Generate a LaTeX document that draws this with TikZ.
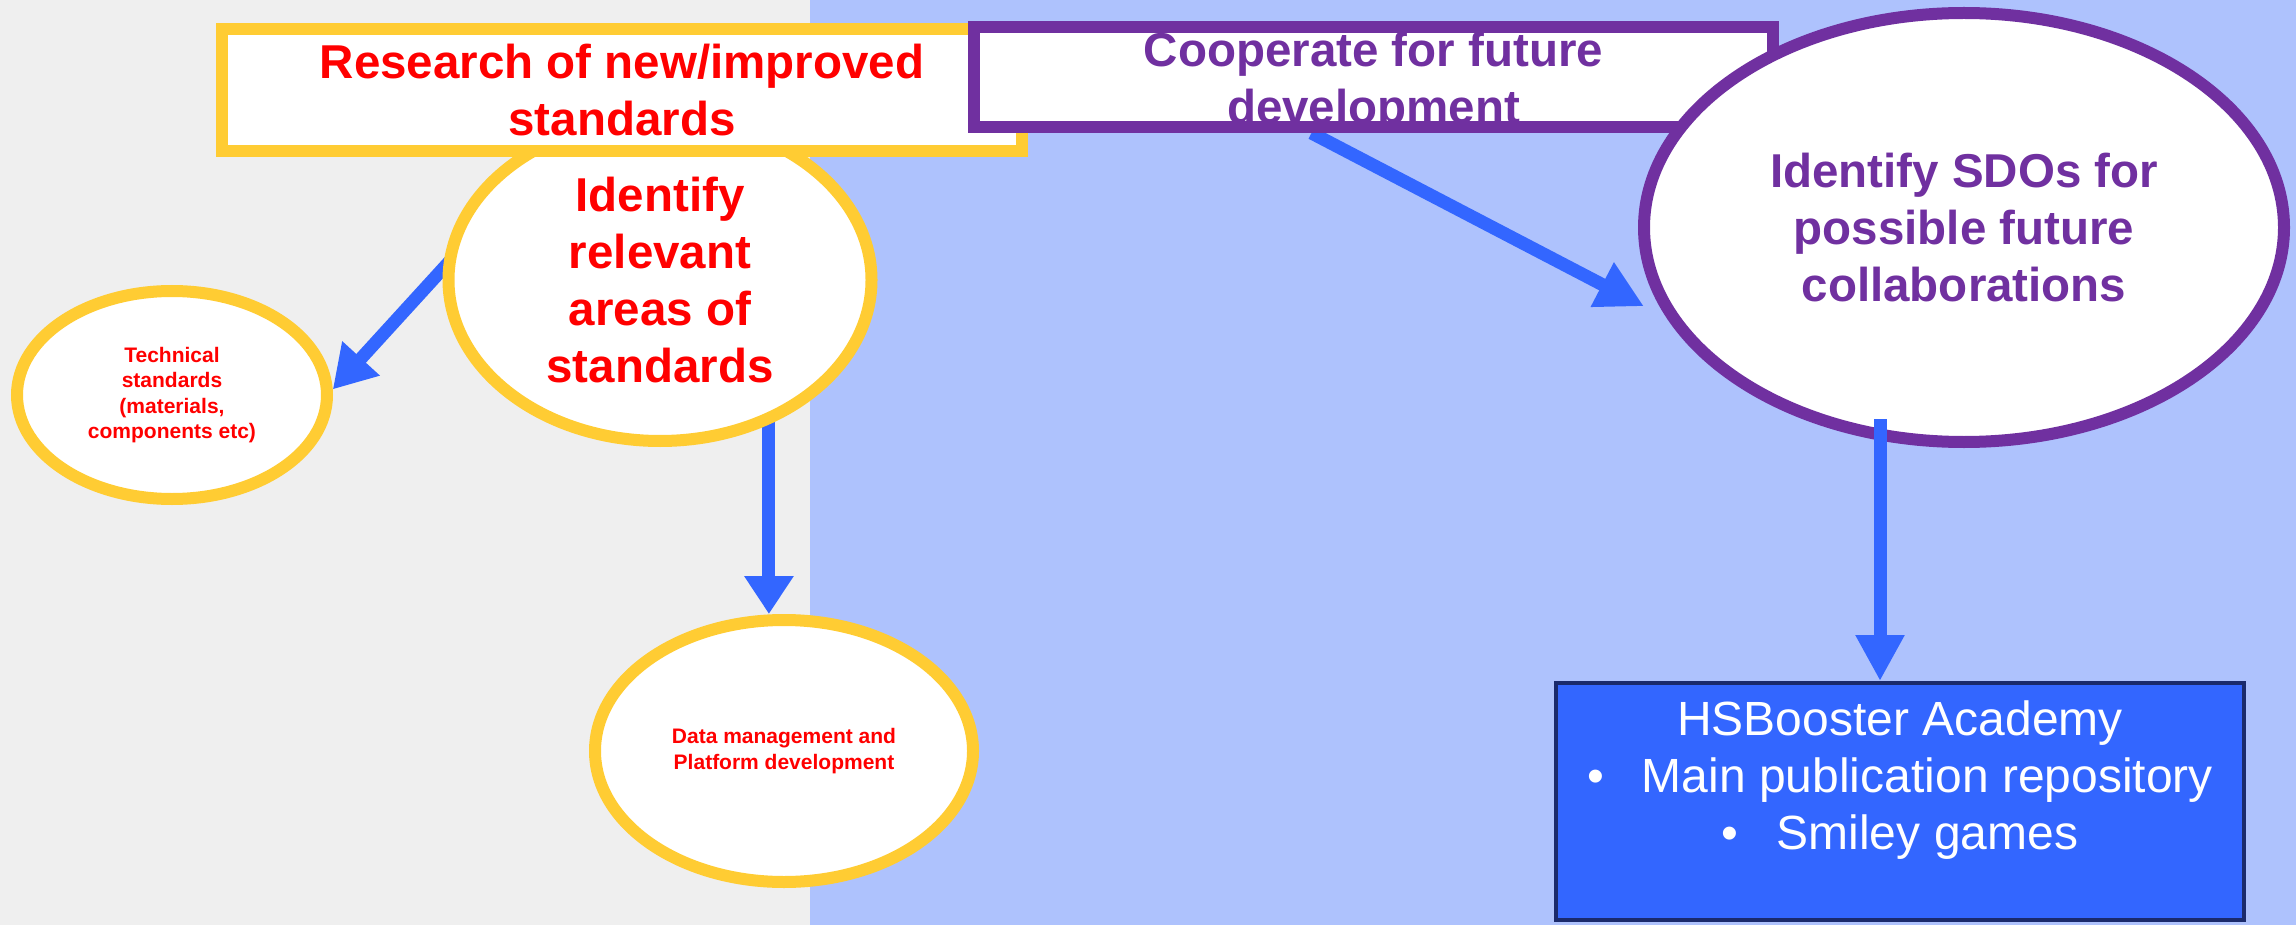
\documentclass[tikz,border=0pt]{standalone}
\usepackage{fontspec}
\setmainfont{Liberation Sans}
\usetikzlibrary{shapes.geometric,arrows.meta}
\definecolor{bggray}{HTML}{EFEFEF}
\definecolor{bgblue}{HTML}{AEC2FD}
\definecolor{yel}{HTML}{FFCC33}
\definecolor{pur}{HTML}{7030A0}
\definecolor{arrblue}{HTML}{3366FF}
\definecolor{navy}{HTML}{1A2A6C}
\definecolor{redtxt}{HTML}{FF0000}
\pgfdeclarelayer{backlayer}
\pgfdeclarelayer{arrowlayer}
\pgfsetlayers{backlayer,arrowlayer,main}
\begin{document}
\begin{tikzpicture}[x=1pt,y=-1pt,
  bigtxt/.style={font=\fontsize{47.5}{57}\selectfont\bfseries},
  smalltxt/.style={font=\fontsize{21}{25.5}\selectfont\bfseries},
  ell/.style={ellipse, fill=white, line width=12pt, inner sep=0pt, align=center},
  boxy/.style={rectangle, fill=white, line width=12pt, inner sep=0pt, align=center},
  arr/.style={draw=arrblue, line width=13pt},
]
\useasboundingbox (0,0) rectangle (2296,925);
\begin{pgfonlayer}{backlayer}
  \fill[bggray] (0,0) rectangle (810,925);
  \fill[bgblue] (810,0) rectangle (2296,925);
\end{pgfonlayer}

% yellow side
\node[ell, draw=yel, minimum width=310pt, minimum height=208pt, smalltxt, text=redtxt] (tech) at (172,395)
  {Technical\\standards\\(materials,\\components etc)};
\node[ell, draw=yel, minimum width=378pt, minimum height=262pt, smalltxt, text=redtxt] (data) at (784,751)
  {Data management and\\Platform development};
\node[ell, draw=yel, minimum width=423pt, minimum height=322pt, bigtxt, text=redtxt] (ident) at (660,280)
  {Identify\\relevant\\areas of\\standards};
\node[boxy, draw=yel, minimum width=800pt, minimum height=122pt, bigtxt, text=redtxt] (rbox) at (622,90)
  {Research of new/improved\\standards};

% purple side
\node[boxy, draw=pur, minimum width=799pt, minimum height=100pt] (pbox) at (1373.5,77) {};
\node[bigtxt, text=pur, align=center, inner sep=0pt] (ptext) at (1373.5,83)
  {Cooperate for future\\development};
\node[ell, draw=pur, minimum width=640pt, minimum height=429pt, bigtxt, text=pur] (sdo) at (1964,227.5)
  {Identify SDOs for\\possible future\\collaborations};

\node[rectangle, fill=arrblue, draw=navy, line width=4pt, minimum width=688pt, minimum height=237pt] (hs) at (1900,801.5) {};
\node[font=\fontsize{48}{57}\selectfont, text=white, align=center, inner sep=0pt] (hstext) at (1900,780)
  {HSBooster Academy\\\textbullet\hspace{38pt}Main publication repository\\\textbullet\hspace{38pt}Smiley games};

\begin{pgfonlayer}{arrowlayer}
  \draw[arr, -{Triangle[length=42pt,width=48pt]}, shorten <=-20pt] (ident.177) -- (tech.2);
  \draw[arr, -{Triangle[length=38pt,width=47pt]}, shorten <=-15pt] (ident.-53.5) -- (ident.-53.5 |- data.north);
  \draw[arr, -{Triangle[length=47pt,width=47pt]}, shorten >=26pt] ([xshift=-62pt]pbox.south) -- (sdo.197);
\end{pgfonlayer}
\draw[arr, -{Triangle[length=46pt,width=46pt]}, shorten <=-29pt] ([xshift=-84pt]sdo.south) -- ([xshift=-84pt]sdo.south |- hs.north);
\end{tikzpicture}
\end{document}
